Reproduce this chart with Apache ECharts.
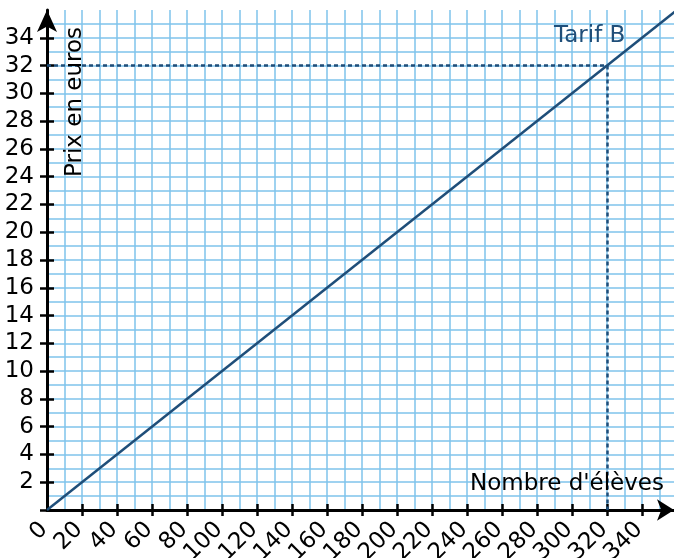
<!DOCTYPE html>
<html>
<head>
<meta charset="utf-8">
<script src="https://cdn.jsdelivr.net/npm/echarts@6/dist/echarts.min.js"></script>
<style>
html,body{margin:0;padding:0;background:#fff;}
#chart{width:674px;height:558px;}
</style>
</head>
<body>
<div id="chart"></div>
<script>
// Data
var lineX = [0, 360];
var lineY = [0, 36];
var highlightX = 320;
var highlightY = 32;
var xMin = 0, xMax = 360, xStep = 20;
var yMin = 0, yMax = 36, yStep = 2;
var xLabelValues = [0, 20, 40, 60, 80, 100, 120, 140, 160, 180, 200, 220, 240, 260, 280, 300, 320, 340];
var xTickValues = [20, 40, 60, 80, 100, 120, 140, 160, 180, 200, 220, 240, 260, 280, 300, 320, 340];
var yLabelValues = [2, 4, 6, 8, 10, 12, 14, 16, 18, 20, 22, 24, 26, 28, 30, 32, 34];
var yTickValues = [0, 2, 4, 6, 8, 10, 12, 14, 16, 18, 20, 22, 24, 26, 28, 30, 32, 34];
var seriesName = 'Tarif B';
var xTitle = "Nombre d'élèves";
var yTitle = 'Prix en euros';

var FONT = 'DejaVu Sans';
var FS = 23;
var gridColor = '#7fc3eb';
var lineColor = '#1f4e79';

var chart = echarts.init(document.getElementById('chart'), null, {renderer: 'canvas'});

var pts = lineX.map(function (x, i) { return [x, lineY[i]]; });

var gridLine = {show: true, lineStyle: {color: gridColor, width: 1.5}};

var option = {
  animation: false,
  backgroundColor: '#fff',
  grid: {left: 47, width: 630, top: 10, height: 500, containLabel: false, outerBoundsMode: 'none'},
  xAxis: [{
    type: 'value', min: xMin, max: xMax, interval: xStep,
    axisLine: {show: true, onZero: false, lineStyle: {color: '#000', width: 3}, symbol: ['none', 'arrow'], symbolSize: [16, 17], symbolOffset: [0, -3]},
    axisTick: {show: true, length: 6, customValues: xTickValues, lineStyle: {color: '#000', width: 2.5}},
    axisLabel: {show: true, rotate: 45, margin: 13, padding: [0, 4, 0, 0], fontSize: FS, fontFamily: FONT, color: '#000', customValues: xLabelValues},
    splitLine: gridLine,
    minorTick: {show: false, splitNumber: 2},
    minorSplitLine: gridLine
  }, {
    type: 'value', min: xMin, max: xMax, interval: xStep, position: 'bottom',
    axisLine: {show: false},
    axisTick: {show: true, inside: true, length: 6, customValues: xTickValues, lineStyle: {color: '#000', width: 2.5}},
    axisLabel: {show: false},
    splitLine: {show: false}
  }],
  yAxis: [{
    type: 'value', min: yMin, max: yMax, interval: yStep,
    axisLine: {show: true, onZero: false, lineStyle: {color: '#000', width: 3}, symbol: ['none', 'arrow'], symbolSize: [15, 22], symbolOffset: [0, 0]},
    axisTick: {show: true, length: 7, customValues: yTickValues, lineStyle: {color: '#000', width: 2.5}},
    axisLabel: {show: true, margin: 13, fontSize: FS, fontFamily: FONT, color: '#000', customValues: yLabelValues},
    splitLine: gridLine,
    minorTick: {show: false, splitNumber: 2},
    minorSplitLine: gridLine
  }, {
    type: 'value', min: yMin, max: yMax, interval: yStep, position: 'left',
    axisLine: {show: false},
    axisTick: {show: true, inside: true, length: 7, customValues: yTickValues, lineStyle: {color: '#000', width: 2.5}},
    axisLabel: {show: false},
    splitLine: {show: false}
  }],
  series: [{
    name: seriesName,
    type: 'line',
    xAxisIndex: 0, yAxisIndex: 0,
    data: pts,
    showSymbol: false,
    symbol: 'none',
    lineStyle: {color: lineColor, width: 2.5},
    z: 3,
    markLine: {
      silent: true,
      symbol: ['none', 'none'],
      label: {show: false},
      emphasis: {disabled: true},
      lineStyle: {color: lineColor, width: 2.5, opacity: 1, type: [4, 3]},
      data: [
        [{coord: [xMin, highlightY]}, {coord: [highlightX, highlightY]}],
        [{coord: [highlightX, highlightY]}, {coord: [highlightX, yMin]}]
      ]
    }
  }],
  graphic: [
    {type: 'text', x: 75, y: 102, rotation: Math.PI / 2, z: 10,
      style: {text: yTitle, fontSize: FS, fontFamily: FONT, fill: '#000', align: 'center', verticalAlign: 'middle'}},
    {type: 'text', x: 664, y: 484, z: 10,
      style: {text: xTitle, fontSize: FS, fontFamily: FONT, fill: '#000', align: 'right', verticalAlign: 'middle'}},
    {type: 'text', x: 554, y: 36, z: 10,
      style: {text: seriesName, fontSize: FS, fontFamily: FONT, fill: lineColor, align: 'left', verticalAlign: 'middle'}}
  ]
};
chart.setOption(option);
</script>
</body>
</html>
